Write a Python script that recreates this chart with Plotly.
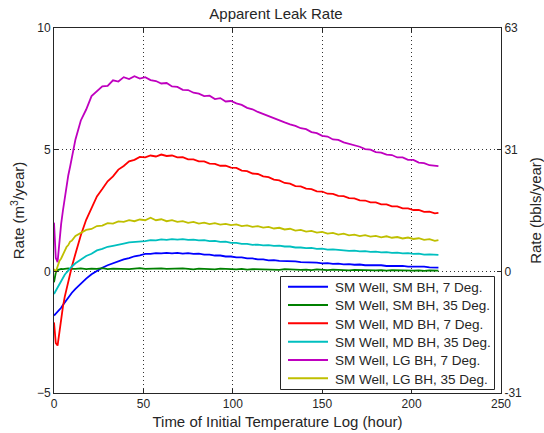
import plotly.graph_objects as go

# Sample times (hours since start of the initial temperature log)
hours = list(range(0, 11)) + list(range(12, 214, 3)) + [215]

sm_sm_7 = [-1.82, -1.75, -1.68, -1.60, -1.50, -1.38, -1.27, -1.16, -1.06, -0.97, -0.88,
           -0.72, -0.50, -0.30, -0.12, 0.03, 0.15, 0.25, 0.34, 0.40, 0.49, 0.54, 0.62, 0.66,
           0.72, 0.72, 0.75, 0.74, 0.76, 0.74, 0.76, 0.73, 0.75, 0.72, 0.73, 0.69, 0.69, 0.65,
           0.65, 0.61, 0.61, 0.57, 0.57, 0.53, 0.53, 0.49, 0.49, 0.45, 0.46, 0.43, 0.43, 0.40,
           0.41, 0.38, 0.38, 0.35, 0.36, 0.33, 0.34, 0.31, 0.32, 0.29, 0.30, 0.27, 0.28, 0.25,
           0.26, 0.24, 0.25, 0.22, 0.23, 0.21, 0.22, 0.19, 0.20, 0.18, 0.19, 0.16, 0.17, 0.15]

sm_sm_35 = [-0.45, -0.05, 0.05, 0.08, 0.10, 0.09, 0.11, 0.10, 0.12, 0.10, 0.11,
            0.10, 0.12, 0.09, 0.11, 0.10, 0.13, 0.09, 0.11, 0.10, 0.12, 0.09, 0.11, 0.13,
            0.10, 0.11, 0.09, 0.12, 0.10, 0.11, 0.09, 0.12, 0.10, 0.08, 0.11, 0.09, 0.10, 0.08,
            0.11, 0.09, 0.10, 0.08, 0.10, 0.07, 0.09, 0.08, 0.10, 0.07, 0.08, 0.06, 0.09, 0.07,
            0.08, 0.06, 0.07, 0.05, 0.08, 0.06, 0.05, 0.07, 0.05, 0.06, 0.04, 0.06, 0.05, 0.04,
            0.06, 0.04, 0.05, 0.03, 0.05, 0.04, 0.03, 0.05, 0.03, 0.04, 0.02, 0.04, 0.03, 0.03]

sm_md_7 = [-2.10, -2.95, -3.05, -2.45, -1.90, -1.45, -1.05, -0.70, -0.35, -0.05, 0.20,
           0.72, 1.48, 2.12, 2.58, 3.08, 3.38, 3.70, 3.90, 4.18, 4.33, 4.52, 4.58, 4.70,
           4.68, 4.76, 4.72, 4.80, 4.74, 4.76, 4.68, 4.69, 4.60, 4.60, 4.52, 4.52, 4.43, 4.42,
           4.34, 4.34, 4.26, 4.25, 4.14, 4.12, 4.02, 4.00, 3.90, 3.87, 3.77, 3.74, 3.63, 3.60,
           3.50, 3.49, 3.40, 3.38, 3.29, 3.28, 3.19, 3.18, 3.10, 3.09, 3.01, 3.00, 2.92, 2.91,
           2.83, 2.83, 2.75, 2.75, 2.67, 2.67, 2.59, 2.59, 2.52, 2.52, 2.44, 2.45, 2.38, 2.40]

sm_md_35 = [-0.93, -0.80, -0.64, -0.50, -0.37, -0.26, -0.14, -0.05, 0.05, 0.12, 0.20,
            0.33, 0.49, 0.63, 0.72, 0.86, 0.92, 1.01, 1.05, 1.11, 1.14, 1.19, 1.20, 1.24,
            1.24, 1.28, 1.27, 1.31, 1.29, 1.32, 1.30, 1.32, 1.29, 1.30, 1.27, 1.28, 1.24, 1.25,
            1.21, 1.22, 1.17, 1.17, 1.13, 1.13, 1.09, 1.10, 1.07, 1.08, 1.05, 1.06, 1.02, 1.02,
            0.98, 0.98, 0.95, 0.96, 0.92, 0.93, 0.89, 0.90, 0.87, 0.87, 0.84, 0.85, 0.82, 0.83,
            0.80, 0.81, 0.78, 0.79, 0.76, 0.77, 0.74, 0.75, 0.72, 0.73, 0.69, 0.70, 0.67, 0.68]

sm_lg_7 = [2.00, 0.55, 0.38, 1.20, 1.95, 2.50, 3.05, 3.50, 3.95, 4.30, 4.70,
           5.42, 6.20, 6.65, 7.20, 7.42, 7.60, 7.62, 7.85, 7.80, 7.98, 7.90, 8.02, 7.92,
           7.98, 7.86, 7.82, 7.72, 7.74, 7.60, 7.58, 7.46, 7.45, 7.34, 7.30, 7.20, 7.22, 7.08,
           7.12, 6.98, 7.00, 6.90, 6.84, 6.72, 6.66, 6.55, 6.46, 6.36, 6.30, 6.20, 6.12, 6.04,
           5.98, 5.88, 5.84, 5.72, 5.68, 5.57, 5.54, 5.42, 5.40, 5.30, 5.25, 5.18, 5.12, 5.02,
           5.00, 4.90, 4.88, 4.80, 4.78, 4.68, 4.68, 4.58, 4.58, 4.47, 4.45, 4.36, 4.33, 4.32]

sm_lg_35 = [0.10, -0.03, 0.20, 0.42, 0.53, 0.72, 0.84, 1.00, 1.08, 1.22, 1.26,
            1.45, 1.56, 1.70, 1.74, 1.86, 1.88, 1.98, 1.96, 2.05, 2.03, 2.10, 2.06, 2.13,
            2.10, 2.20, 2.10, 2.14, 2.06, 2.10, 2.03, 2.06, 1.99, 2.03, 1.96, 2.00, 1.94, 1.98,
            1.92, 1.95, 1.90, 1.93, 1.86, 1.89, 1.83, 1.86, 1.80, 1.83, 1.76, 1.79, 1.72, 1.75,
            1.67, 1.70, 1.63, 1.66, 1.59, 1.62, 1.55, 1.58, 1.51, 1.55, 1.48, 1.51, 1.45, 1.49,
            1.43, 1.46, 1.40, 1.44, 1.38, 1.41, 1.35, 1.39, 1.33, 1.36, 1.29, 1.32, 1.25, 1.28]

series_names = ["SM Well, SM BH, 7 Deg.", "SM Well, SM BH, 35 Deg.",
                "SM Well, MD BH, 7 Deg.", "SM Well, MD BH, 35 Deg.",
                "SM Well, LG BH, 7 Deg.", "SM Well, LG BH, 35 Deg."]
series_values = [sm_sm_7, sm_sm_35, sm_md_7, sm_md_35, sm_lg_7, sm_lg_35]
series_colors = ["#0000ff", "#008000", "#ff0000", "#00bfbf", "#bf00bf", "#bfbf00"]

# Left axis in m3/year, right axis shows the same span in bbls/year
left_ticks = [-5, 0, 5, 10]
right_tick_text = ["-31", "0", "31", "63"]
x_ticks = [0, 50, 100, 150, 200, 250]

ink = "#262626"
font_family = "Liberation Sans, Arial, sans-serif"

W, H = 544, 433
M_L, M_R, M_T, M_B = 54, 43, 28, 40
plot_w = W - M_L - M_R
plot_h = H - M_T - M_B


def px_x(px):
    return (px - M_L) / plot_w


def px_y(py):
    return (H - M_B - py) / plot_h


fig = go.Figure()
for name, vals, color in zip(series_names, series_values, series_colors):
    fig.add_trace(go.Scatter(x=hours, y=vals, mode="lines", name=name,
                             line=dict(color=color, width=1.8), showlegend=False))

# invisible trace so the right-hand axis is drawn
fig.add_trace(go.Scatter(x=[None], y=[None], yaxis="y2", showlegend=False,
                         hoverinfo="skip"))

grid_style = dict(showgrid=True, gridcolor="#333333", griddash="1px,3px", gridwidth=1)
axis_common = dict(showline=True, linecolor=ink, linewidth=1,
                   ticks="inside", ticklen=4, tickcolor=ink,
                   zeroline=False, automargin=False,
                   tickfont=dict(size=12, color=ink))

# Boxed legend drawn in the lower right of the axes
shapes = [dict(type="rect", xref="paper", yref="paper",
               x0=px_x(280.5), x1=px_x(494.5), y0=px_y(389.5), y1=px_y(276.5),
               fillcolor="white", line=dict(color=ink, width=1), layer="above")]
annotations = []
row_y0, row_step = 286.7, 18.33
for i, (name, color) in enumerate(zip(series_names, series_colors)):
    ry = row_y0 + i * row_step
    shapes.append(dict(type="line", xref="paper", yref="paper",
                       x0=px_x(288), x1=px_x(328), y0=px_y(ry), y1=px_y(ry),
                       line=dict(color=color, width=2), layer="above"))
    annotations.append(dict(text=name, xref="paper", yref="paper",
                            x=px_x(333), y=px_y(ry + 0.8), xanchor="left",
                            yanchor="middle", showarrow=False,
                            font=dict(size=13.5, color=ink)))

fig.update_layout(
    width=W, height=H,
    margin=dict(l=M_L, r=M_R, t=M_T, b=M_B),
    paper_bgcolor="white", plot_bgcolor="white",
    font=dict(family=font_family, color=ink),
    title=dict(text="Apparent Leak Rate", x=276 / W, xanchor="center",
               y=1 - 13.5 / H, yanchor="middle", font=dict(size=15, color=ink)),
    xaxis=dict(range=[0, 250], tickvals=x_ticks, mirror="ticks",
               title=dict(text="Time of Initial Temperature Log (hour)",
                          font=dict(size=15, color=ink), standoff=6),
               **grid_style, **axis_common),
    yaxis=dict(range=[-5, 10], tickvals=left_ticks, mirror=True,
               title=dict(text="Rate (m<sup>3</sup>/year)",
                          font=dict(size=15, color=ink), standoff=8),
               **grid_style, **axis_common),
    yaxis2=dict(range=[-5, 10], tickvals=left_ticks, ticktext=right_tick_text,
                overlaying="y", side="right", anchor="x", showgrid=False,
                title=dict(text="Rate (bbls/year)", font=dict(size=15, color=ink),
                           standoff=10),
                **axis_common),
    shapes=shapes,
    annotations=annotations,
    showlegend=False,
)

fig.write_html("out.html")
